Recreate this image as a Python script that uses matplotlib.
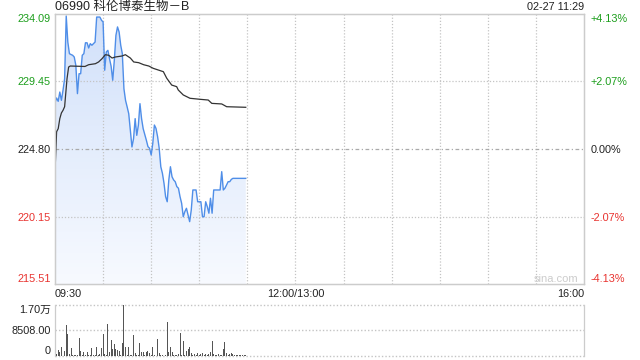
import matplotlib

matplotlib.use("Agg")
import matplotlib.pyplot as plt
import numpy as np
from matplotlib.patches import Polygon

plt.rcParams["font.family"] = ["Liberation Sans", "Noto Sans CJK SC", "DejaVu Sans"]

# ---- data (minutes since 09:30) ----
title = "06990 科伦博泰生物－B"
stamp = "02-27 11:29"
prev_close = 224.80
price_ticks = [234.09, 229.45, 224.80, 220.15, 215.51]

price_min = [0, 1, 2, 3, 4, 5, 6, 7, 8, 9, 10, 11, 12, 13, 14, 15, 16, 17, 18, 19,
             20, 21, 22, 23, 24, 25, 26, 27, 28, 29, 30, 31, 32, 33, 34, 35, 36, 37, 38, 39,
             40, 41, 42, 43, 44, 45, 46, 47, 48, 49, 50, 51, 52, 53, 54, 55, 56, 57, 58, 59,
             60, 61, 62, 63, 64, 65, 66, 67, 68, 69, 70, 71, 72, 73, 74, 75, 76, 77, 78, 79,
             80, 81, 82, 83, 84, 85, 86, 87, 88, 89, 90, 91, 92, 93, 94, 95, 96, 97, 98, 99,
             100, 101, 102, 103, 104, 105, 106, 107, 108, 109, 110, 111, 112, 113, 114, 115,
             116, 117, 118, 119]
price_val = [227.99, 228.31, 228.08, 228.72, 228.15, 228.84, 229.64, 233.95, 232.16, 231.36,
             231.30, 231.25, 231.13, 230.56, 228.61, 229.98, 229.98, 231.25, 231.36, 232.11,
             232.11, 231.75, 232.05, 231.94, 232.05, 232.16, 233.88, 233.88, 233.88, 233.66,
             233.54, 230.22, 231.48, 231.59, 231.01, 230.50, 229.53, 230.90, 232.62, 233.20,
             232.85, 231.94, 231.36, 228.95, 228.15, 227.70, 227.23, 226.09, 224.94, 225.51,
             226.89, 225.74, 226.43, 227.92, 226.89, 226.20, 225.80, 225.40, 224.96, 224.85,
             224.39, 225.19, 226.45, 226.22, 225.65, 224.85, 223.58, 223.13, 222.44, 221.52,
             221.17, 222.67, 223.58, 222.89, 222.67, 222.55, 222.21, 222.10, 221.52, 221.06,
             220.14, 220.49, 220.72, 220.26, 219.80, 220.60, 221.98, 221.98, 221.98, 221.17,
             221.17, 221.17, 220.14, 220.14, 221.17, 220.83, 220.38, 221.41, 220.38, 221.98,
             221.98, 221.98, 221.98, 221.98, 223.24, 221.98, 222.10, 222.32, 222.55, 222.55,
             222.71, 222.78, 222.78, 222.78, 222.78, 222.78, 222.78, 222.78, 222.78, 222.78]

avg_min = [0, 1, 2, 3, 4, 5, 6, 7.5, 8.5, 9.5, 18.7, 21, 25.2, 27.2, 29.3, 31.4, 33.5, 35.6,
           37.6, 41.8, 43.9, 47, 49.1, 52.2, 55.3, 58.5, 61.3, 67.6, 69.7, 72.8, 75.9, 76.9,
           80, 84.2, 90.5, 95.6, 97.8, 104, 107.1, 119]
avg_val = [223.24, 225.99, 226.20, 226.89, 227.28, 227.46, 227.71, 229.64, 230.44, 230.51,
           230.48, 230.60, 230.67, 230.79, 231.01, 231.29, 231.25, 231.06, 231.13, 231.20,
           231.29, 231.06, 230.79, 230.74, 230.60, 230.51, 230.35, 230.12, 229.67, 229.20,
           229.09, 228.86, 228.52, 228.29, 228.22, 228.17, 227.94, 227.90, 227.71, 227.67]

volume = [800, 450, 1900, 1100, 2800, 3000, 1570, 10100, 7200, 400,
          2500, 300, 300, 300, 200, 5800, 1570, 200, 1300, 300,
          1300, 200, 300, 2460, 200, 300, 2800, 200, 400, 2460,
          7200, 600, 300, 10500, 1100, 5150, 2100, 3800, 2200, 1900,
          1570, 300, 4150, 17000, 3000, 300, 2700, 200, 300, 6700,
          1000, 300, 200, 4150, 1300, 1100, 300, 1300, 1570, 700,
          300, 3000, 300, 1300, 5500, 800, 300, 200, 2100, 300,
          11200, 1300, 2700, 1300, 200, 300, 200, 600, 7500, 200,
          5000, 300, 1570, 2100, 3000, 700, 300, 500, 300, 700,
          300, 400, 700, 300, 600, 300, 400, 1300, 4700, 600,
          300, 200, 400, 300, 300, 2100, 4370, 700, 300, 400,
          1000, 500, 300, 300, 300, 200, 300, 300, 200, 300]
vol_top = 17016

GREEN = "#1c9e1c"
RED = "#e8322e"
GRID = "#c4c4c4"
DOT = (0, (1, 1.5))

fig = plt.figure(figsize=(6.4, 3.6), dpi=100)
ax = fig.add_axes([55 / 640, 76 / 360, 529 / 640, 270 / 360])
axv = fig.add_axes([55 / 640, 4.5 / 360, 529 / 640, 51 / 360])

price_bottom, price_top = price_ticks[-1], price_ticks[0]

# ---- price panel ----
ax.set_xlim(0, 330)
ax.set_ylim(price_bottom, price_top)
for m in range(30, 330, 30):
    ax.axvline(m, color=GRID, lw=0.9, ls=DOT, zorder=2)
for t in (price_ticks[1], price_ticks[3]):
    ax.axhline(t, color=GRID, lw=0.9, ls=DOT, zorder=2)
ax.axhline(prev_close, color="#aaaaaa", lw=0.9, ls=(0, (3, 2, 1, 2)), zorder=2)

# gradient fill under the price line
verts = [(price_min[0], price_bottom)] + list(zip(price_min, price_val)) + [(price_min[-1], price_bottom)]
poly = Polygon(verts, closed=True, facecolor="none", edgecolor="none")
ax.add_patch(poly)
grad = np.linspace(0, 1, 256).reshape(-1, 1)
top_c = np.array([0.82, 0.88, 0.98])
bot_c = np.array([0.97, 0.98, 1.0])
img = (top_c * (1 - grad[..., None]) + bot_c * grad[..., None]).reshape(256, 1, 3)
im = ax.imshow(img, extent=[price_min[0], price_min[-1], price_bottom, price_top],
               origin="upper", aspect="auto", zorder=1)
im.set_clip_path(poly)

ax.plot(price_min, price_val, color="#4f8ee8", lw=1.0, zorder=3)
ax.plot(avg_min, avg_val, color="#333333", lw=0.9, zorder=4)

colors = [GREEN, GREEN, "#222222", RED, RED]
ax.set_yticks(price_ticks)
ax.set_yticklabels([f"{t:.2f}" for t in price_ticks], fontsize=7.8)
ax.set_xticks([])
ax.tick_params(axis="y", length=0, pad=3)
for lab, c in zip(ax.get_yticklabels(), colors):
    lab.set_color(c)
ax.get_yticklabels()[0].set_va("top")
ax.get_yticklabels()[-1].set_va("bottom")

axr = ax.twinx()
axr.set_ylim(price_bottom, price_top)
axr.set_yticks(price_ticks)
pct = [(t / prev_close - 1) * 100 for t in price_ticks]
axr.set_yticklabels([f"{p:+.2f}%" if abs(p) > 0.001 else "0.00%" for p in pct], fontsize=7.8)
axr.tick_params(axis="y", length=0, pad=5)
for lab, c in zip(axr.get_yticklabels(), colors):
    lab.set_color(c)
axr.get_yticklabels()[0].set_va("top")
axr.get_yticklabels()[-1].set_va("bottom")

for a in (ax, axr):
    for s in a.spines.values():
        s.set_color("#cccccc")
        s.set_linewidth(0.9)

ax.text(0.99, 0.02, "sina.com", transform=ax.transAxes, ha="right", va="center",
        fontsize=8, color="#cccccc")

# ---- labels around the price panel ----
fig.text(55 / 640, 1 - 7 / 360, title, ha="left", va="center", fontsize=9, color="#222222")
fig.text(584 / 640, 1 - 7 / 360, stamp, ha="right", va="center", fontsize=7.8, color="#222222")
fig.text(55 / 640, 1 - 294 / 360, "09:30", ha="left", va="center", fontsize=7.8, color="#222222")
fig.text((55 + 529 * 150 / 330) / 640, 1 - 294 / 360, "12:00/13:00", ha="center", va="center",
         fontsize=7.8, color="#222222")
fig.text(584 / 640, 1 - 294 / 360, "16:00", ha="right", va="center", fontsize=7.8, color="#222222")

# ---- volume panel ----
axv.set_xlim(0, 330)
axv.set_ylim(0, vol_top)
axv.bar(range(len(volume)), volume, width=0.6, color="#555555", zorder=3)
for s in ("top", "bottom"):
    axv.spines[s].set_visible(False)
for s in ("left", "right"):
    axv.spines[s].set_color("#cccccc")
    axv.spines[s].set_linewidth(0.9)
for yv in (0, vol_top / 2, vol_top):
    axv.axhline(yv, color=GRID, lw=1.0, ls=DOT, zorder=0, clip_on=False)
axv.set_xticks([])
axv.set_yticks([vol_top, vol_top / 2, 0])
axv.set_yticklabels([f"{vol_top / 10000:.2f}万", f"{vol_top / 2:.2f}", "0"], fontsize=7.8,
                    color="#222222")
axv.tick_params(axis="y", length=0, pad=3)
axv.get_yticklabels()[0].set_va("top")
axv.get_yticklabels()[-1].set_va("bottom")

fig.savefig("out.png", dpi=100)
